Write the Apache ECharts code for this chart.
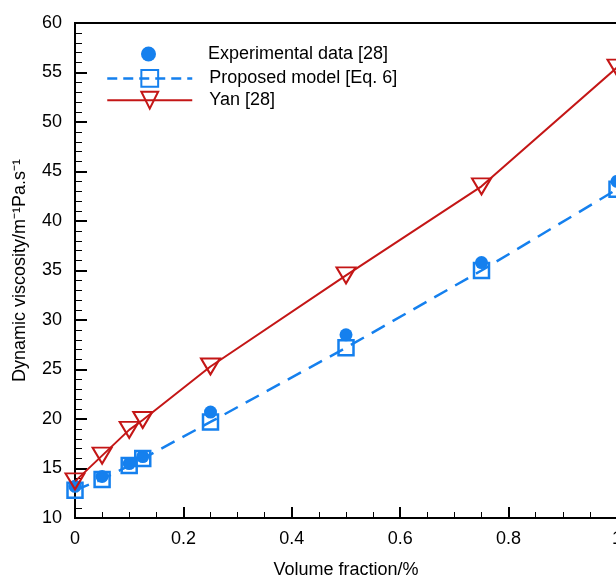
<!DOCTYPE html>
<html><head><meta charset="utf-8">
<script src="https://cdn.jsdelivr.net/npm/echarts@6/dist/echarts.min.js"></script>
<style>html,body{margin:0;padding:0;background:#fff}#c{width:616px;height:576px}</style>
</head><body><div id="c"></div>
<script>
const volumeFraction = [0, 0.05, 0.1, 0.125, 0.25, 0.5, 0.75, 1.0];
const experimental = [13.2, 14.2, 15.5, 16.2, 20.7, 28.5, 35.8, 44.0];
const proposed = [12.8, 13.9, 15.3, 16.0, 19.7, 27.2, 35.0, 43.2];
const yan = [13.7, 16.3, 18.9, 19.9, 25.3, 34.5, 43.5, 55.5];
const seriesNames = ['Experimental data [28]', 'Proposed model [Eq. 6]', 'Yan [28]'];
const xTitle = 'Volume fraction/%';
const yTitle = 'Dynamic viscosity/m\u207B\u00B9Pa.s\u207B\u00B9';

const BLUE = '#1580ee', RED = '#c41616';
const pair = ys => volumeFraction.map((x, i) => [x, ys[i]]);
const font = 'Liberation Sans, Arial, sans-serif';

const chart = echarts.init(document.getElementById('c'), null, {renderer: 'canvas'});
chart.setOption({
  backgroundColor: '#fff',
  animation: false,
  textStyle: {fontFamily: font},
  grid: {left: 75, top: 23, right: -1, bottom: 58, outerBoundsMode: 'none', containLabel: false,
         show: true, borderColor: '#000', borderWidth: 2, backgroundColor: 'transparent'},
  legend: [
    {
      left: 141, top: 45, orient: 'vertical', padding: 0,
      itemWidth: 15, itemHeight: 15, itemGap: 0,
      textStyle: {fontSize: 18, color: '#000', fontFamily: font, padding: [0, 0, 0, 47]},
      data: [seriesNames[0]]
    },
    {
      left: 106, top: 69, orient: 'vertical', padding: 0,
      itemWidth: 85, itemHeight: 21, itemGap: 3,
      textStyle: {fontSize: 18, color: '#000', fontFamily: font, padding: [0, 0, 0, 12]},
      data: [
        {name: seriesNames[1], lineStyle: {type: [10, 6], width: 2.5}},
        {name: seriesNames[2]}
      ]
    }
  ],
  xAxis: {
    type: 'value', min: 0, max: 1, interval: 0.2,
    name: xTitle, nameLocation: 'middle', nameGap: 43,
    nameTextStyle: {fontSize: 18, color: '#000', fontFamily: font},
    axisLine: {show: true, lineStyle: {color: '#000', width: 2}},
    axisTick: {show: true, inside: true, length: 11, lineStyle: {color: '#000', width: 2}},
    minorTick: {show: true, splitNumber: 4, length: 6, lineStyle: {color: '#000', width: 1}},
    axisLabel: {fontSize: 18, color: '#000', margin: 12, fontFamily: font},
    splitLine: {show: false}
  },
  yAxis: {
    type: 'value', min: 10, max: 60, interval: 5,
    name: yTitle, nameLocation: 'middle', nameGap: 46,
    nameTextStyle: {fontSize: 18, color: '#000', fontFamily: font},
    axisLine: {show: true, lineStyle: {color: '#000', width: 2}},
    axisTick: {show: true, inside: true, length: 12, lineStyle: {color: '#000', width: 2}},
    minorTick: {show: true, splitNumber: 5, length: 7, lineStyle: {color: '#000', width: 1}},
    axisLabel: {fontSize: 18, color: '#000', margin: 13, fontFamily: font},
    splitLine: {show: false}
  },
  series: [
    {
      name: seriesNames[0], type: 'scatter', data: pair(experimental),
      symbol: 'circle', symbolSize: 13, z: 2,
      itemStyle: {color: BLUE, opacity: 1}
    },
    {
      name: seriesNames[1], type: 'line', data: pair(proposed),
      symbol: 'rect', symbolSize: 15, showAllSymbol: true, z: 3,
      lineStyle: {color: BLUE, width: 2.5, type: [15, 9]},
      itemStyle: {color: 'rgba(0,0,0,0)', borderColor: BLUE, borderWidth: 2.5}
    },
    {
      name: seriesNames[2], type: 'line', data: pair(yan),
      symbol: 'triangle', symbolRotate: 180, symbolSize: [19, 16], showAllSymbol: true, z: 4,
      lineStyle: {color: RED, width: 2},
      itemStyle: {color: 'rgba(0,0,0,0)', borderColor: RED, borderWidth: 2}
    }
  ]
});
</script></body></html>
